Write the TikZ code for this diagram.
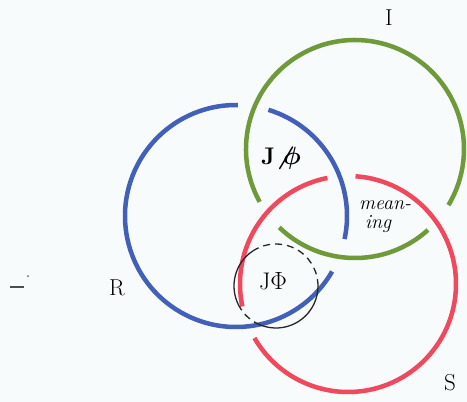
\documentclass[tikz,border=0pt]{standalone}
\usepackage{amsmath, amssymb}
\usepackage{tikz}
\usetikzlibrary{positioning, calc}
\definecolor{ringblue}{RGB}{66,96,184}
\definecolor{ringgreen}{RGB}{110,154,58}
\definecolor{ringred}{RGB}{240,72,92}
\definecolor{paper}{RGB}{247,251,251}
\tikzset{
    ring/.style={line width=4.5pt},
    bluering/.style={ring, draw=ringblue},
    greenring/.style={ring, draw=ringgreen},
    redring/.style={ring, draw=ringred},
    focusring/.style={line width=1.3pt, draw=black!85},
    focusdash/.style={focusring, dash pattern=on 7pt off 5pt},
    setlabel/.style={font=\fontsize{23}{27}\selectfont, inner sep=0pt},
    zonelabel/.style={font=\fontsize{24}{28}\selectfont, inner sep=0pt},
    handnote/.style={font=\fontsize{20}{19}\selectfont\itshape, align=left, inner sep=0pt}
}

\begin{document}
\begin{tikzpicture}[x=1pt, y=-1pt]
  \fill[paper] (0,0) rectangle (467,402);
  \useasboundingbox (0,0) rectangle (467,402);
  \coordinate (cR) at (236,216);
  \coordinate (cI) at (355,149);
  \coordinate (cS) at (348,284);
  \coordinate (cJ) at (276,286);
  % the three rings, each broken where another passes over it
  \draw[bluering] (cR) ++(-73:111) arc[start angle=-73, end angle=12, radius=111];
  \draw[bluering] (cR) ++(30:111) arc[start angle=30, end angle=271, radius=111];
  \draw[greenring] (cI) ++(48:109) arc[start angle=48, end angle=134, radius=109];
  \draw[greenring] (cI) ++(151:109) arc[start angle=151, end angle=391, radius=109];
  \draw[redring] (cS) ++(-86:108) arc[start angle=-86, end angle=150, radius=108];
  \draw[redring] (cS) ++(168:108) arc[start angle=168, end angle=259, radius=108];
  % small circle round J Phi
  \draw[focusdash] (cJ) ++(-124:42) arc[start angle=-124, end angle=-4, radius=42];
  \draw[focusring] (cJ) ++(-4:42) arc[start angle=-4, end angle=112, radius=42];
  \draw[focusdash] (cJ) ++(112:42) arc[start angle=112, end angle=152, radius=42];
  \draw[focusring] (cJ) ++(152:42) arc[start angle=152, end angle=236, radius=42];
  \node[setlabel] (labI) at (389,18) {I};
  \node[setlabel] (labR) at (117,288) {R};
  \node[setlabel] (labS) at (450,383) {S};
  \node[zonelabel] (jphi) at (273,281) {J$\Phi$};
  \node[zonelabel] (jnotphi) at (281,158) {\bfseries J$\boldsymbol{\not\phi}$};
  \node[handnote] (meaning) at (385,217) {mean-\\ \hspace*{6pt}ing};
  % stray marks on the left
  \draw[line width=1.6pt, black!70] (10,287) -- (24,287);
  \fill[black!60] (28,276) circle (1pt);
\end{tikzpicture}
\end{document}
